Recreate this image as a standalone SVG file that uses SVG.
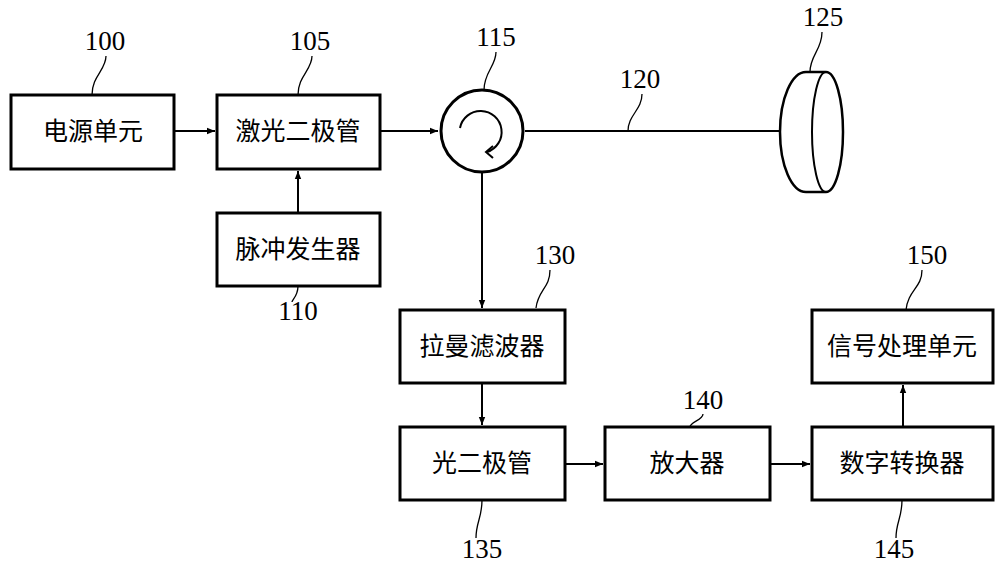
<svg xmlns="http://www.w3.org/2000/svg" width="1000" height="582" viewBox="0 0 1000 582">
<defs>
<marker id="ah" viewBox="0 0 10 10" refX="10" refY="5" markerWidth="8" markerHeight="8" markerUnits="userSpaceOnUse" orient="auto"><path d="M0,1 L10,5 L0,9 z" fill="#000"/></marker>
<style>
.b{fill:#fff;stroke:#000;stroke-width:3}
.t{font-family:"Noto Sans CJK SC","Noto Sans CJK TC",serif;font-size:25px;text-anchor:middle}
.n{font-family:"Liberation Serif","Times New Roman","DejaVu Serif",serif;font-size:27px;text-anchor:middle}
.c{fill:none;stroke:#000;stroke-width:2}
.l{fill:none;stroke:#000;stroke-width:1.3}
</style>
</defs>
<rect width="1000" height="582" fill="#fff"/>
<g id="connectors">
<line class="c" x1="174" y1="131" x2="215" y2="131" marker-end="url(#ah)"/>
<line class="c" x1="298" y1="213" x2="298" y2="171" marker-end="url(#ah)"/>
<line class="c" x1="380" y1="131" x2="438" y2="131" marker-end="url(#ah)"/>
<line class="c" x1="525" y1="131" x2="780" y2="131"/>
<line class="c" x1="482" y1="173" x2="482" y2="308" marker-end="url(#ah)"/>
<line class="c" x1="482" y1="383" x2="482" y2="425" marker-end="url(#ah)"/>
<line class="c" x1="565" y1="464" x2="603" y2="464" marker-end="url(#ah)"/>
<line class="c" x1="770" y1="464" x2="810" y2="464" marker-end="url(#ah)"/>
<line class="c" x1="903" y1="427" x2="903" y2="385" marker-end="url(#ah)"/>
</g>
<g id="n100"><rect class="b" x="11" y="95" width="163" height="74"/><text class="t" x="93" y="140">电源单元</text>
<text class="n" x="105" y="50">100</text><path class="l" d="M106,56 C106,70 92,76 92,95"/></g>
<g id="n105"><rect class="b" x="217" y="95" width="163" height="74"/><text class="t" x="298" y="140">激光二极管</text>
<text class="n" x="310" y="50">105</text><path class="l" d="M312,56 C312,70 298,76 298,95"/></g>
<g id="n110"><rect class="b" x="217" y="213" width="163" height="73"/><text class="t" x="298" y="258">脉冲发生器</text>
<text class="n" x="298" y="320">110</text><path class="l" d="M298,286 C298,296 292,300 292,302"/></g>
<g id="n115"><circle cx="482" cy="131" r="41" fill="#fff" stroke="#000" stroke-width="3"/>
<path class="c" d="M460,128 A21,21 0 1 1 487,152"/><path class="c" d="M493,146 L486,152 L493,158"/>
<text class="n" x="496" y="46">115</text><path class="l" d="M496,52 C496,66 484,72 484,90"/></g>
<g id="n120"><text class="n" x="640" y="88">120</text><path class="l" d="M642,94 C642,110 628,115 628,131"/></g>
<g id="n125"><path d="M806,72 L826,72 A17,60 0 0 1 826,192 L806,192 A26,60 0 0 1 806,72 z" fill="#fff" stroke="#000" stroke-width="2.5"/>
<path class="c" d="M826,72 A14,60 0 0 0 826,192"/>
<text class="n" x="823" y="26">125</text><path class="l" d="M822,32 C822,50 810,55 810,72"/></g>
<g id="n130"><rect class="b" x="400" y="310" width="165" height="73"/><text class="t" x="482" y="355">拉曼滤波器</text>
<text class="n" x="555" y="264">130</text><path class="l" d="M550,270 C550,288 538,290 536,308"/></g>
<g id="n135"><rect class="b" x="400" y="427" width="165" height="73"/><text class="t" x="482" y="472">光二极管</text>
<text class="n" x="482" y="558">135</text><path class="l" d="M482,500 C482,518 476,522 476,538"/></g>
<g id="n140"><rect class="b" x="605" y="427" width="165" height="73"/><text class="t" x="687" y="472">放大器</text>
<text class="n" x="703" y="409">140</text><path class="l" d="M703,414 C703,420 690,422 690,427"/></g>
<g id="n145"><rect class="b" x="812" y="427" width="181" height="73"/><text class="t" x="902" y="472">数字转换器</text>
<text class="n" x="894" y="558">145</text><path class="l" d="M902,500 C902,518 896,522 896,538"/></g>
<g id="n150"><rect class="b" x="812" y="310" width="181" height="73"/><text class="t" x="902" y="355">信号处理单元</text>
<text class="n" x="927" y="264">150</text><path class="l" d="M922,270 C922,288 908,290 906,310"/></g>
</svg>
